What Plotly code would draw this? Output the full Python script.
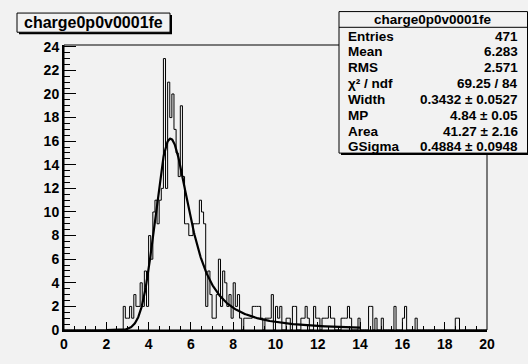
import numpy as np
import plotly.graph_objects as go

# ---- histogram "charge0p0v0001fe": 200 bins of width 0.1 on [0, 20] ----
# lower edge of every non-empty bin and its content
bin_low = [
    2.8, 2.9, 3.0, 3.1, 3.2, 3.3, 3.4, 3.5, 3.6, 3.7, 3.8, 3.9,
    4.0, 4.1, 4.2, 4.3, 4.4, 4.5, 4.6, 4.7, 4.8, 4.9,
    5.0, 5.1, 5.2, 5.3, 5.4, 5.5, 5.6, 5.7, 5.8, 5.9,
    6.0, 6.1, 6.2, 6.3, 6.4, 6.5, 6.6, 6.7, 6.8, 6.9,
    7.0, 7.1, 7.2, 7.3, 7.4, 7.5, 7.6, 7.7, 7.8, 7.9,
    8.0, 8.1, 8.2, 8.3, 8.5, 8.6, 8.7, 8.8, 8.9,
    9.0, 9.1, 9.2, 9.3, 9.5, 9.6, 9.7, 9.8,
    10.0, 10.1, 10.2, 10.5, 10.6, 10.8, 10.9,
    11.2, 11.3, 11.4, 11.5, 11.8, 11.9,
    12.0, 12.2, 12.3, 12.4, 12.5, 12.6, 12.7,
    13.1, 13.2, 13.3, 13.4, 13.5, 13.9,
    14.4, 14.5, 14.7, 15.0, 15.6, 16.0, 16.1, 16.6, 18.5, 18.6,
]
bin_count = [
    2, 1, 1, 2, 1, 3, 2, 2, 4, 2, 5, 2,
    8, 6, 10, 11, 9, 11, 12, 23, 12, 21,
    18, 20, 17, 15, 13, 19, 13, 9, 9, 8,
    8, 9, 9, 9, 11, 10, 9, 2, 5, 3,
    1, 1, 3, 6, 2, 5, 4, 2, 3, 1,
    4, 2, 3, 1, 1, 1, 1, 1, 2,
    2, 2, 2, 1, 1, 1, 1, 3,
    2, 1, 2, 1, 1, 2, 2,
    1, 1, 2, 1, 2, 1,
    1, 1, 1, 1, 2, 1, 1,
    1, 1, 1, 2, 1, 1,
    2, 2, 1, 1, 2, 1, 2, 1, 1, 1,
]
n_bins = 200
x_min, x_max = 0.0, 20.0

# Landau (x) Gaussian fit result
fit_width = 0.3432
fit_mp = 4.84
fit_area = 41.27
fit_gsigma = 0.4884
fit_range = [2.0, 14.0]

hist_title = "charge0p0v0001fe"
stat_labels = ["Entries", "Mean", "RMS", "\u03c7\u00b2 / ndf",
               "Width", "MP", "Area", "GSigma"]
stat_values = ["471", "6.283", "2.571", "69.25 / 84",
               "0.3432 \u00b1 0.0527", "4.84 \u00b1 0.05",
               "41.27 \u00b1 2.16", "0.4884 \u00b1 0.0948"]

x_ticks = list(range(0, 21, 2))
y_ticks = list(range(0, 25, 2))
y_top = 24.15


# ---- Landau density (CERNLIB DENLAN) ----
def denlan(v):
    v = np.asarray(v, dtype=float)
    out = np.zeros_like(v)
    p1 = [0.4259894875, -0.1249762550, 0.03984243700, -0.006298287635, 0.001511162253]
    q1 = [1.0, -0.3388260629, 0.09594393323, -0.01608042283, 0.003778942063]
    p2 = [0.1788541609, 0.1173957403, 0.01488850518, -0.001394989411, 0.0001283617211]
    q2 = [1.0, 0.7428795082, 0.3153932961, 0.06694219548, 0.008790609714]
    p3 = [0.1788544503, 0.09359161662, 0.006325387654, 0.00006611667319, -0.000002031049101]
    q3 = [1.0, 0.6097809921, 0.2560616665, 0.04746722384, 0.006957301675]
    p4 = [0.9874054407, 118.6723273, 849.2794360, -743.7792444, 427.0262186]
    q4 = [1.0, 106.8615961, 337.6496214, 2016.712389, 1597.063511]
    p5 = [1.003675074, 167.5702434, 4789.711289, 21217.86767, -22324.94910]
    q5 = [1.0, 156.9424537, 3745.310488, 9834.698876, 66924.28357]
    p6 = [1.000827619, 664.9143136, 62972.92665, 475554.6998, -5743609.109]
    q6 = [1.0, 651.4101098, 56974.73333, 165917.4725, -2815759.939]
    a1 = [0.04166666667, -0.01996527778, 0.02709538966]
    a2 = [-1.845568670, -4.284640743]

    def poly(c, t):
        return c[0] + (c[1] + (c[2] + (c[3] + c[4] * t) * t) * t) * t

    with np.errstate(all="ignore"):
        m = v < -5.5
        if m.any():
            u = np.exp(v[m] + 1.0)
            r = 0.3989422803 * (np.exp(-1.0 / u) / np.sqrt(u)) * (1 + (a1[0] + (a1[1] + a1[2] * u) * u) * u)
            out[m] = np.where(u < 1e-10, 0.0, r)
        m = (v >= -5.5) & (v < -1)
        u = np.exp(-v[m] - 1)
        out[m] = np.exp(-u) * np.sqrt(u) * poly(p1, v[m]) / poly(q1, v[m])
        m = (v >= -1) & (v < 1)
        out[m] = poly(p2, v[m]) / poly(q2, v[m])
        m = (v >= 1) & (v < 5)
        out[m] = poly(p3, v[m]) / poly(q3, v[m])
        m = (v >= 5) & (v < 12)
        u = 1 / v[m]
        out[m] = u * u * poly(p4, u) / poly(q4, u)
        m = (v >= 12) & (v < 50)
        u = 1 / v[m]
        out[m] = u * u * poly(p5, u) / poly(q5, u)
        m = (v >= 50) & (v < 300)
        u = 1 / v[m]
        out[m] = u * u * poly(p6, u) / poly(q6, u)
        m = v >= 300
        u = 1 / (v[m] - v[m] * np.log(v[m]) / (v[m] + 1))
        out[m] = u * u * (1 + (a2[0] + a2[1] * u) * u)
    return out


def langaus(x, width, mp, area, gsigma, n_steps=100, n_sig=5.0):
    mpc = mp + 0.22278298 * width
    step = 2 * n_sig * gsigma / n_steps
    offs = -n_sig * gsigma + (np.arange(n_steps) + 0.5) * step
    xx = x[:, None] + offs[None, :]
    fland = denlan((xx - mpc) / width) / width
    gaus = np.exp(-0.5 * ((x[:, None] - xx) / gsigma) ** 2)
    return area * step * (fland * gaus).sum(axis=1) * 0.3989422804014 / gsigma


# ---- build histogram outline ----
counts = np.zeros(n_bins)
idx = np.round(np.array(bin_low) / ((x_max - x_min) / n_bins)).astype(int)
counts[idx] = bin_count
edges = np.linspace(x_min, x_max, n_bins + 1)
step_y = np.append(counts, counts[-1])

fit_x = np.linspace(fit_range[0], fit_range[1], 600)
fit_y = langaus(fit_x, fit_width, fit_mp, fit_area, fit_gsigma)

# ---- canvas geometry (pixels) ----
W, H = 528, 364
L, R, T, B = 64, 487, 45, 335
BG = "#f2f2f2"


def px(x):
    return (x - L) / (R - L)


def py(y):
    return (B - y) / (B - T)


fig = go.Figure()
fig.add_trace(go.Scatter(x=edges, y=step_y, mode="lines", line_shape="hv",
                         line=dict(color="black", width=1), hoverinfo="skip"))
fig.add_trace(go.Scatter(x=fit_x, y=fit_y, mode="lines",
                         line=dict(color="black", width=2.2), hoverinfo="skip"))

tick_font = dict(family="Liberation Sans", size=14, color="black", weight="bold")
fig.update_layout(
    width=W, height=H,
    margin=dict(l=L, r=W - R, t=T, b=H - B, pad=0),
    paper_bgcolor=BG, plot_bgcolor=BG,
    showlegend=False,
    xaxis=dict(range=[x_min, x_max], tickvals=x_ticks,
               ticktext=[f"<b>{v}</b>" for v in x_ticks],
               ticks="inside", ticklen=8,
               tickcolor="black", tickwidth=1, showgrid=False, zeroline=False,
               showline=True, linecolor="black", linewidth=2, tickfont=tick_font,
               minor=dict(dtick=0.5, ticks="inside", ticklen=4, tickcolor="black", tickwidth=1)),
    yaxis=dict(range=[0, y_top], tickvals=y_ticks,
               ticktext=[f"<b>{v}</b>" for v in y_ticks],
               ticks="inside", ticklen=12,
               tickcolor="black", tickwidth=1, showgrid=False, zeroline=False,
               showline=True, linecolor="black", linewidth=2, tickfont=tick_font,
               minor=dict(dtick=0.5, ticks="inside", ticklen=6, tickcolor="black", tickwidth=1)),
)

shapes = []
# frame (top / right edges)
shapes.append(dict(type="rect", xref="paper", yref="paper", x0=0, x1=1, y0=0, y1=1,
                   line=dict(color="black", width=1), layer="below"))

# title box with shadow
tb = (17, 12.5, 170, 32)
shapes.append(dict(type="rect", xref="paper", yref="paper",
                   x0=px(tb[0] + 2), x1=px(tb[2] + 2), y0=py(tb[3] + 2), y1=py(tb[1] + 2),
                   fillcolor="black", line=dict(width=0), layer="above"))
shapes.append(dict(type="rect", xref="paper", yref="paper",
                   x0=px(tb[0]), x1=px(tb[2]), y0=py(tb[3]), y1=py(tb[1]),
                   fillcolor=BG, line=dict(color="black", width=1), layer="above"))

# statistics box with shadow
sb = (339, 11, 527.5, 155)
shapes.append(dict(type="rect", xref="paper", yref="paper",
                   x0=px(sb[0] + 2), x1=px(sb[2] + 2), y0=py(sb[3] + 2), y1=py(sb[1] + 2),
                   fillcolor="black", line=dict(width=0), layer="above"))
shapes.append(dict(type="rect", xref="paper", yref="paper",
                   x0=px(sb[0]), x1=px(sb[2]), y0=py(sb[3]), y1=py(sb[1]),
                   fillcolor=BG, line=dict(color="black", width=1), layer="above"))
shapes.append(dict(type="line", xref="paper", yref="paper",
                   x0=px(sb[0]), x1=px(sb[2]), y0=py(27), y1=py(27),
                   line=dict(color="black", width=1), layer="above"))

annotations = []
annotations.append(dict(text=f"<b>{hist_title}</b>", xref="paper", yref="paper",
                        x=px((tb[0] + tb[2]) / 2), y=py(22.5), xanchor="center", yanchor="middle",
                        showarrow=False,
                        font=dict(family="Liberation Sans", size=16, color="black")))
stat_font = dict(family="Liberation Sans", size=13.5, color="black")
annotations.append(dict(text=f"<b>{hist_title}</b>", xref="paper", yref="paper",
                        x=px((sb[0] + sb[2]) / 2), y=py(19), xanchor="center", yanchor="middle",
                        showarrow=False, font=stat_font))
for i, (lab, val) in enumerate(zip(stat_labels, stat_values)):
    yy = 36 + 16.1 * i
    annotations.append(dict(text=f"<b>{lab}</b>", xref="paper", yref="paper", x=px(346), y=py(yy),
                            xanchor="left", yanchor="middle", showarrow=False, font=stat_font))
    annotations.append(dict(text=f"<b>{val}</b>", xref="paper", yref="paper", x=px(520), y=py(yy),
                            xanchor="right", yanchor="middle", showarrow=False, font=stat_font))

fig.update_layout(shapes=shapes, annotations=annotations)
fig.write_html("out.html")
